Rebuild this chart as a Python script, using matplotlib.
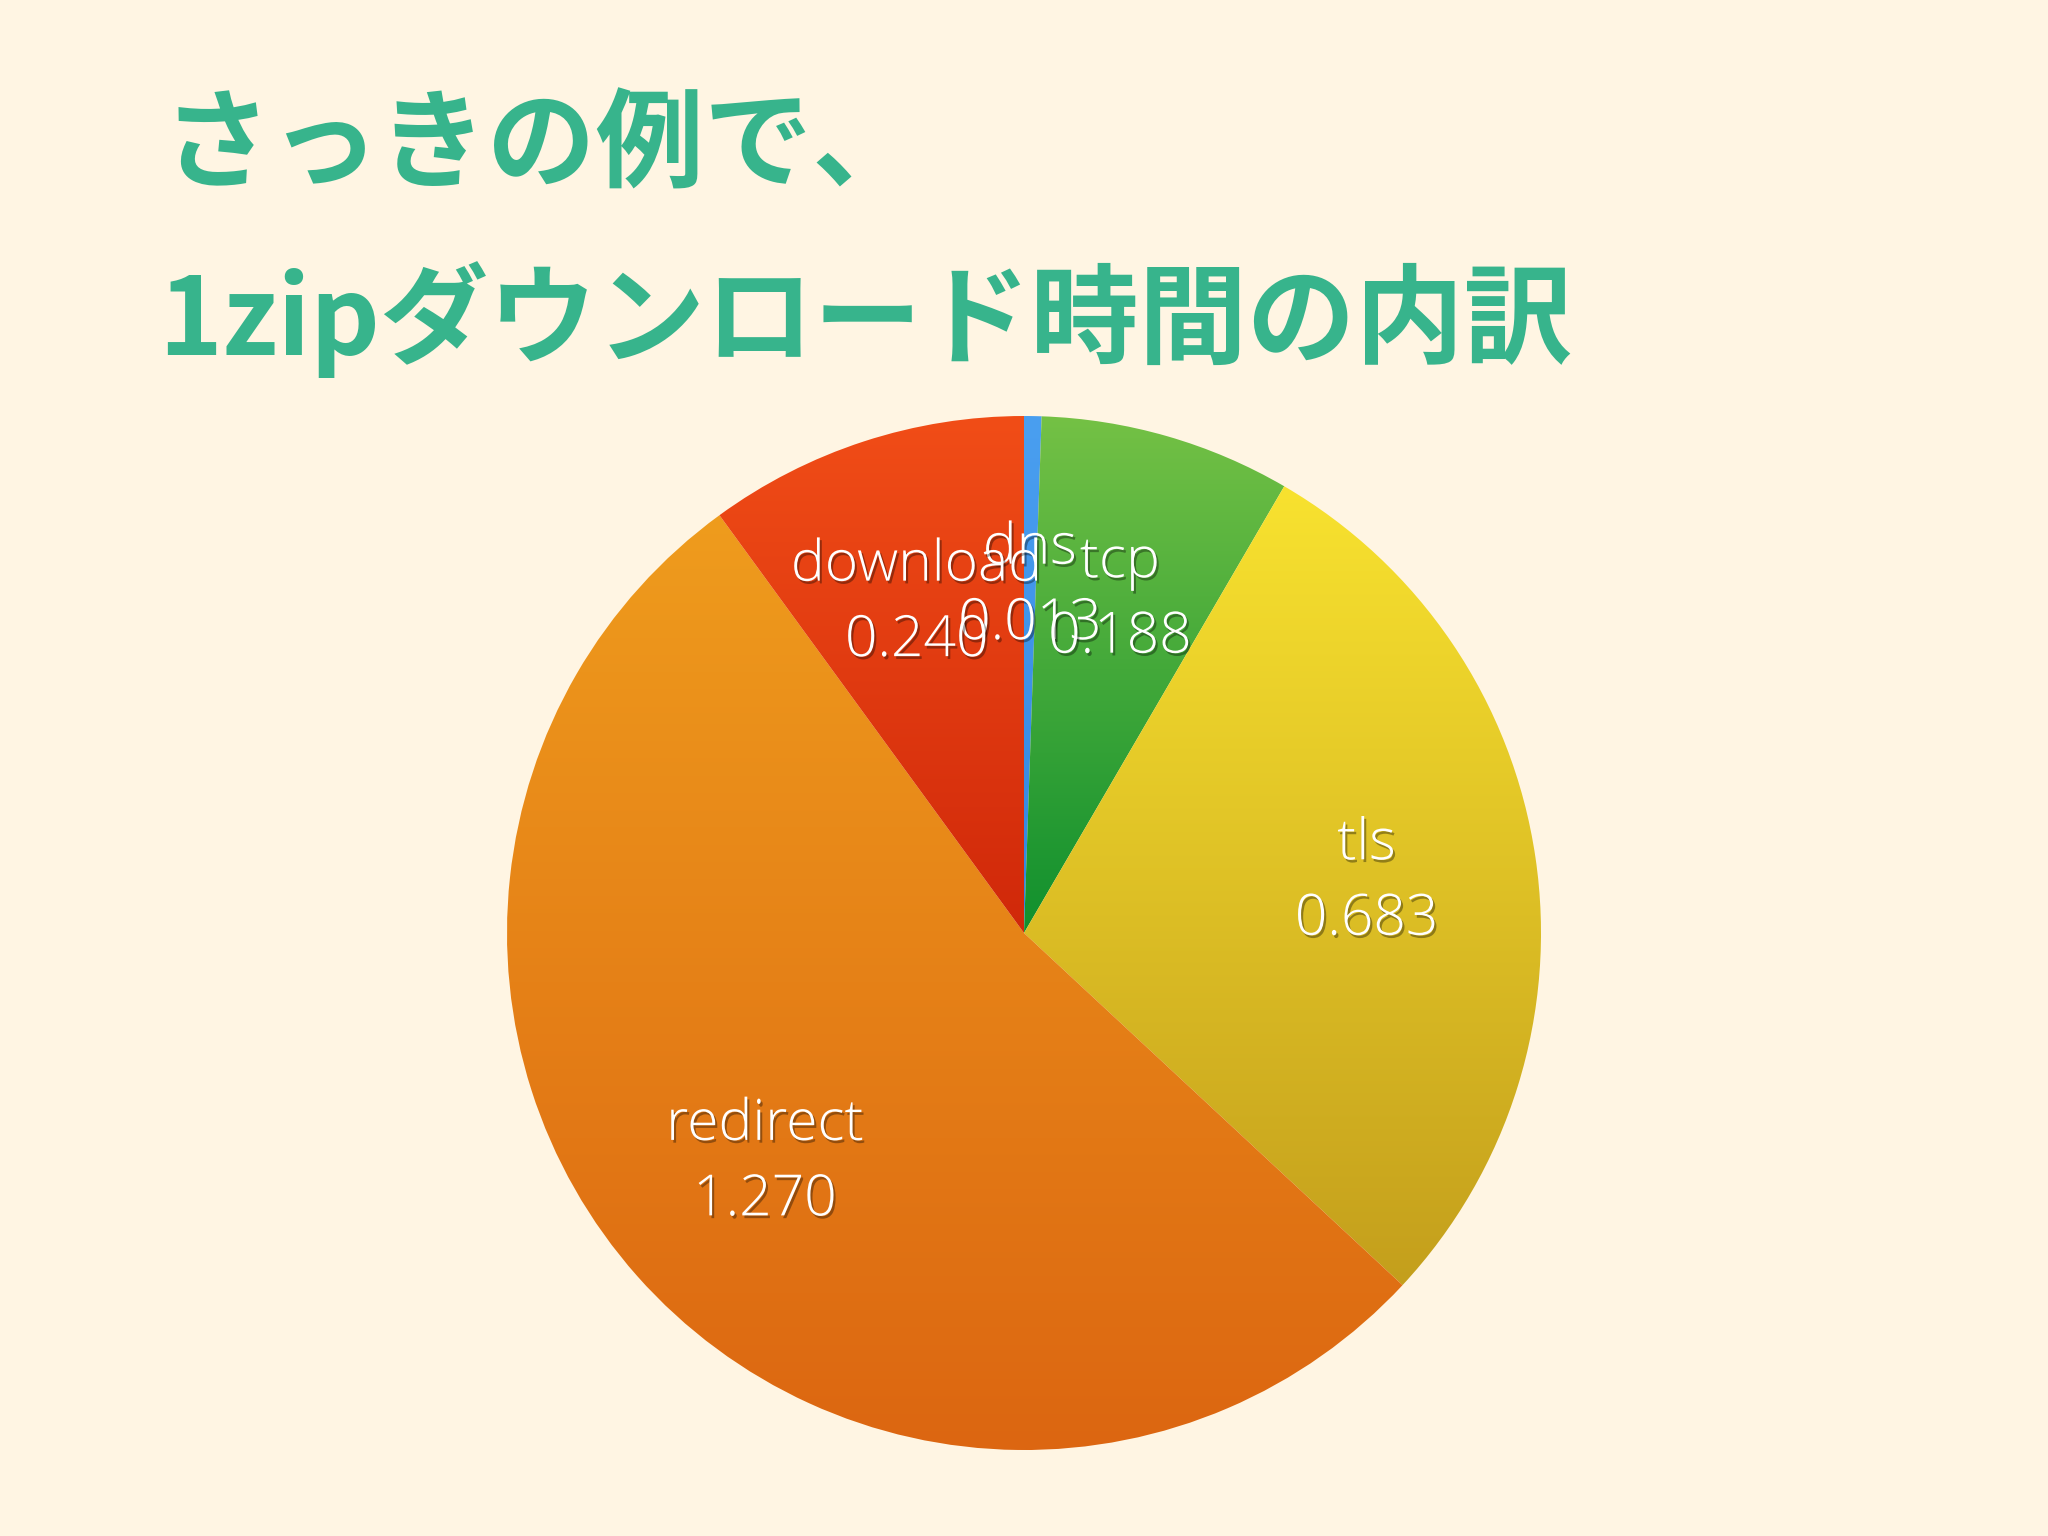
import numpy as np
import matplotlib
matplotlib.use("Agg")
import matplotlib.pyplot as plt
import matplotlib.patheffects as pe
from matplotlib.colors import to_rgb

# ---- data ----
categories = ["dns", "tcp", "tls", "redirect", "download"]
values = [0.013, 0.188, 0.683, 1.270, 0.240]
value_labels = ["0.013", "0.188", "0.683", "1.270", "0.240"]
title_line1 = "さっきの例で、"
title_line2 = "1zipダウンロード時間の内訳"

# top / bottom gradient colours per slice
top_colors = ["#4a9ff0", "#74c145", "#f8e22f", "#ef9c1d", "#f14d17"]
bottom_colors = ["#3386e0", "#10902e", "#c49f1c", "#dc6611", "#d0280a"]

BG = "#fff5e3"
TITLE_COLOR = "#37b48c"

W, H, DPI = 2048, 1536, 100
fig = plt.figure(figsize=(W / DPI, H / DPI), dpi=DPI, facecolor=BG)

# pie axes: centre (1024, 933) px, radius 517 px
cx, cy, R = 1024, 933, 517
ax = fig.add_axes([(cx - R) / W, (H - cy - R) / H, 2 * R / W, 2 * R / H])
ax.set_facecolor(BG)

wedges, _ = ax.pie(values, startangle=90, counterclock=False, radius=1.0,
                   wedgeprops=dict(linewidth=0))

for w, c_top, c_bot in zip(wedges, top_colors, bottom_colors):
    w.set_facecolor("none")
    ext = w.get_path().get_extents()
    t = np.linspace(0, 1, 256)[:, None]
    ct, cb = np.array(to_rgb(c_top)), np.array(to_rgb(c_bot))
    grad = ct[None, None, :] * (1 - t[:, :, None]) + cb[None, None, :] * t[:, :, None]
    grad = np.repeat(grad, 2, axis=1)
    im = ax.imshow(grad, extent=[ext.x0, ext.x1, ext.y0, ext.y1], origin="upper",
                   aspect="auto", interpolation="bilinear", zorder=1)
    im.set_clip_path(w)

ax.set_xlim(-1, 1)
ax.set_ylim(-1, 1)
ax.set_aspect("equal")
ax.axis("off")

shadow = [pe.SimplePatchShadow(offset=(1.5, -2), shadow_rgbFace="#000000", alpha=0.35),
          pe.Normal()]
label_font = ["Open Sans", "DejaVu Sans"]
label_r = 0.67
for w, name, val in zip(wedges, categories, value_labels):
    mid = np.deg2rad((w.theta1 + w.theta2) / 2)
    x, y = label_r * np.cos(mid), label_r * np.sin(mid)
    ax.text(x, y + 0.073, name, ha="center", va="center", fontsize=41, color="white",
            family=label_font, fontweight="light",
            path_effects=shadow, zorder=5)
    ax.text(x, y - 0.073, val, ha="center", va="center", fontsize=41, color="white",
            family=label_font, fontweight="light",
            path_effects=shadow, zorder=5)

# titles
fig.text(163 / W, 1 - 148 / H, title_line1, ha="left", va="center", fontsize=78,
         fontweight="bold", color=TITLE_COLOR, family=["Noto Sans CJK JP", "DejaVu Sans"])
fig.text(158 / W, 1 - 320 / H, title_line2, ha="left", va="center", fontsize=78,
         fontweight="bold", color=TITLE_COLOR, family=["Noto Sans CJK JP", "DejaVu Sans"])

fig.savefig("out.png", dpi=DPI, facecolor=BG)
